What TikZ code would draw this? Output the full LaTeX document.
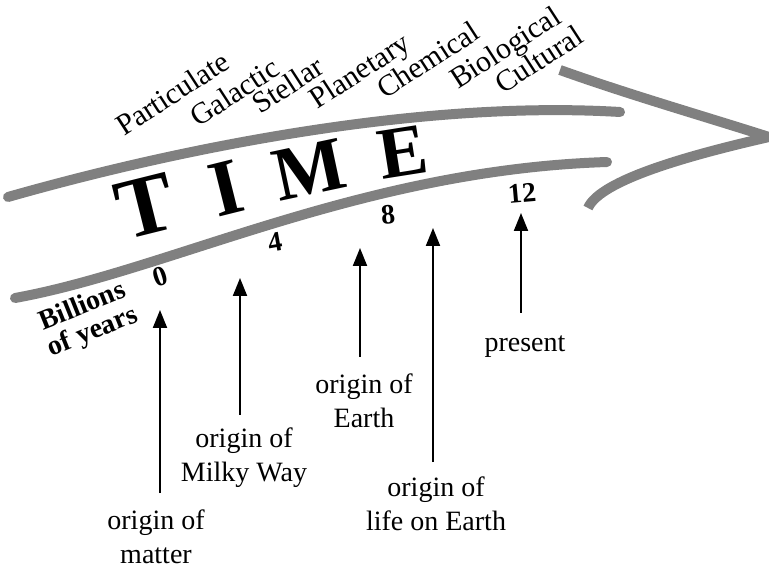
\documentclass[tikz,border=0pt]{standalone}
\usepackage{fontspec}
\setmainfont{Liberation Serif}
\usetikzlibrary{arrows.meta}
\begin{document}
\begin{tikzpicture}[x=1pt,y=-1pt,
 band/.style={line width=10pt, draw=black!50, line cap=round},
 lbl/.style={font=\fontsize{28}{34}\selectfont, align=center, inner sep=0pt},
 era/.style={font=\fontsize{30}{32}\selectfont, inner sep=0pt, anchor=base west, rotate=33},
 num/.style={font=\fontsize{28}{30}\selectfont\bfseries, inner sep=0pt},
 big/.style={font=\bfseries, inner sep=0pt},
 up/.style={-{Triangle[length=18pt,width=14pt]}, line width=2pt}
]
\useasboundingbox (0,0) rectangle (769,569);
% bands
\draw[band] (8,197) .. controls (180,148) and (420,100) .. (620,112);
\draw[band] (15,298) .. controls (170,270) and (360,170) .. (607,162);
\draw[band, line cap=butt] (560,70) .. controls (630,95) and (700,115) .. (769,137);
\draw[band, line cap=butt] (769,137) .. controls (690,155) and (600,180) .. (588,208);
% TIME
\node[big, rotate=14] (T) at (146,206) {\fontsize{86}{88}\selectfont T};
\node[big, rotate=14] (I) at (226,188) {\fontsize{80}{82}\selectfont I};
\node[big, rotate=12] (M) at (309,170) {\fontsize{76}{78}\selectfont M};
\node[big, rotate=9] (E) at (403,152) {\fontsize{73}{75}\selectfont E};
% eras
\node[era] (part) at (124,137) {Particulate};
\node[era] (gal) at (198,128) {Galactic};
\node[era] (stel) at (260,115) {Stellar};
\node[era] (plan) at (317,110) {Planetary};
\node[era] (chem) at (385,100) {Chemical};
\node[era] (bio) at (458,90) {Biological};
\node[era] (cult) at (503,95) {Cultural};
% numbers
\node[num, rotate=18] (n0) at (160,277) {0};
\node[num, rotate=10] (n4) at (275,242) {4};
\node[num, rotate=5] (n8) at (388,215) {8};
\node[num, rotate=5] (n12) at (522,193) {12};
\node[font=\fontsize{28}{27}\selectfont\bfseries, align=center, inner sep=0pt, rotate=22] (billions) at (88,320) {Billions\\of years};
% labels
\node[lbl] (matter) at (156,537) {origin of\\matter};
\node[lbl] (milky) at (244,458) {origin of\\Milky Way};
\node[lbl] (earth) at (364,401) {origin of\\Earth};
\node[lbl] (life) at (436,504) {origin of\\life on Earth};
\node[lbl] (present) at (525,347) {present};
% arrow coordinates
\coordinate (b1) at (160,493); \coordinate (t1) at (160,310);
\coordinate (b2) at (240,415); \coordinate (t2) at (240,278);
\coordinate (b3) at (360,357); \coordinate (t3) at (360,248);
\coordinate (b4) at (433,462); \coordinate (t4) at (433,228);
\coordinate (b5) at (521,313); \coordinate (t5) at (521,213);
\draw[up] (b1) -- (t1);
\draw[up] (b2) -- (t2);
\draw[up] (b3) -- (t3);
\draw[up] (b4) -- (t4);
\draw[up] (b5) -- (t5);
\end{tikzpicture}
\end{document}
